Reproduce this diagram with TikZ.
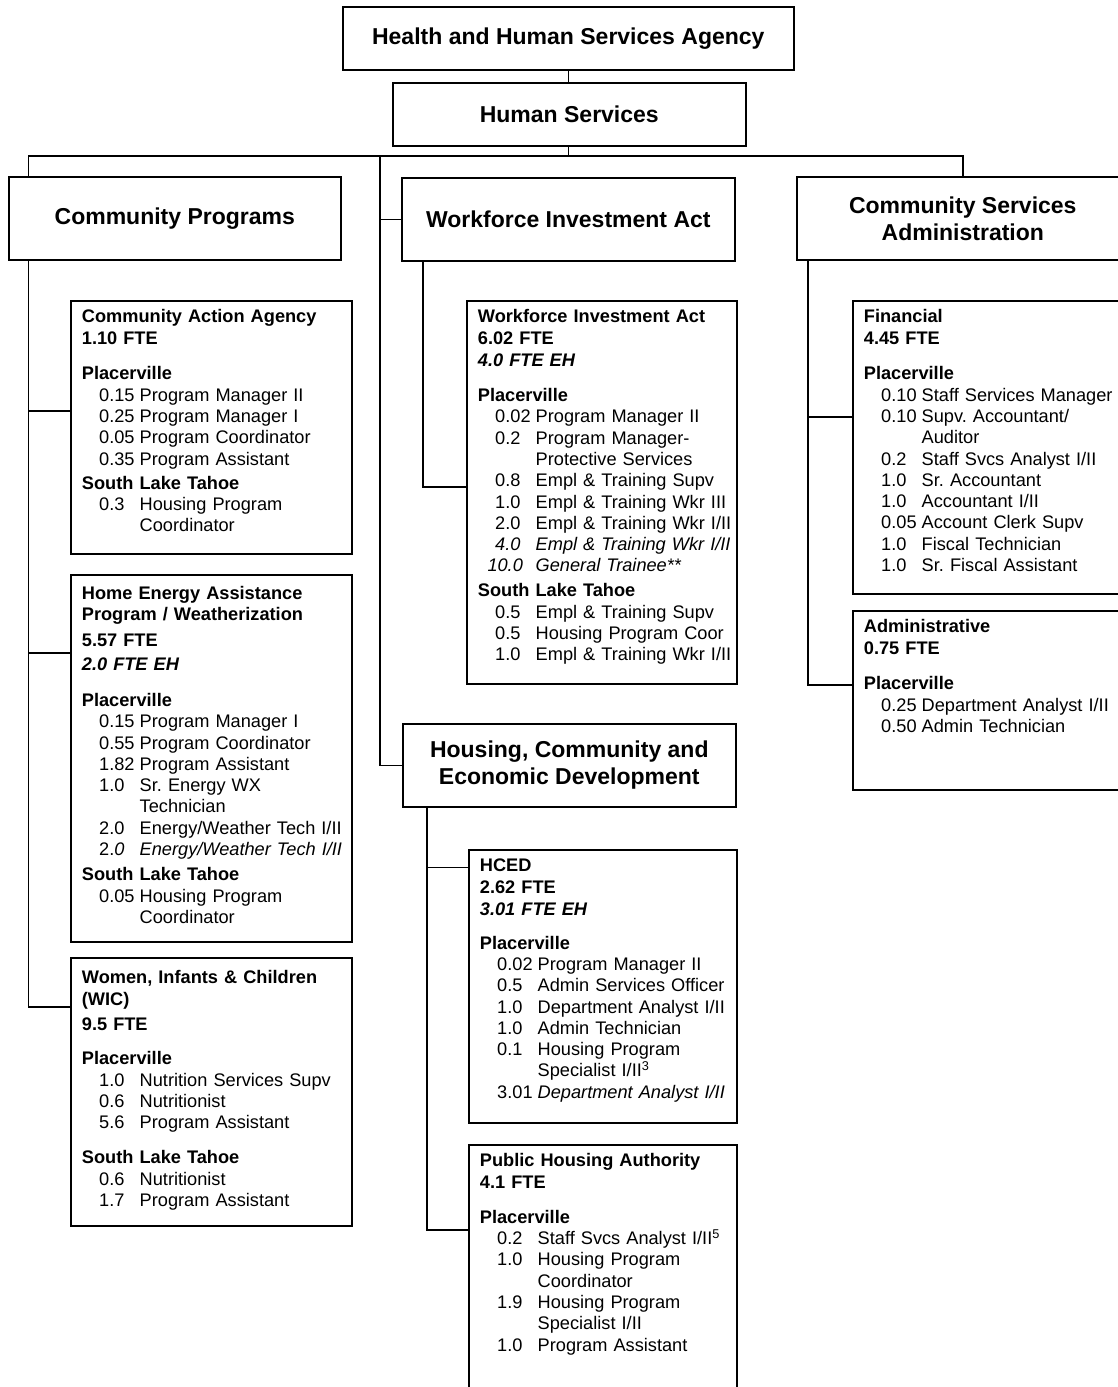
\documentclass[tikz,border=0pt]{standalone}
\usepackage{fontspec}
\setmainfont{Liberation Sans}
\frenchspacing
\newcommand{\jb}[2]{\hspace*{17.3pt}\makebox[40.5pt][l]{#1}#2}
\newcommand{\jc}[1]{\hspace*{57.8pt}#1}
\tikzset{
  hdr/.style={draw, line width=1.6pt, anchor=north west, inner sep=0pt, align=center,
    font=\fontsize{23}{27}\selectfont\bfseries},
  sub/.style={draw, line width=1.6pt, anchor=north west, inner sep=0pt},
  txt/.style={anchor=north west, inner sep=0pt, align=left, text width=300pt,
    font=\fontsize{18.2}{21.3}\selectfont},
  wire/.style={line width=1.6pt}
}
\begin{document}
\begin{tikzpicture}[x=1pt,y=-1pt]
  \useasboundingbox (0,0) rectangle (1117,1387);
  \node[hdr, minimum width=451pt, minimum height=63pt] (hhsa) at (342,6) {Health and Human Services Agency};
  \node[hdr, minimum width=353pt, minimum height=63pt] (hs) at (392,82) {Human Services};
  \node[hdr, minimum width=332pt, minimum height=83pt] (cp) at (8,176) {Community Programs};
  \node[hdr, minimum width=333pt, minimum height=83pt] (wia) at (401,177) {Workforce Investment Act};
  \node[hdr, minimum width=332pt, minimum height=83pt] (csa) at (796,176) {Community Services\\Administration};
  \node[hdr, minimum width=333pt, minimum height=83pt] (hced) at (402,723) {Housing, Community and\\Economic Development};

  \node[sub, minimum width=281pt, minimum height=253pt] (caa) at (70,300) {};
  \node[sub, minimum width=281pt, minimum height=367pt] (heap) at (70,574) {};
  \node[sub, minimum width=281pt, minimum height=268pt] (wic) at (70,957) {};
  \node[sub, minimum width=270pt, minimum height=383pt] (wiasub) at (466,300) {};
  \node[sub, minimum width=268pt, minimum height=273pt] (hcedsub) at (468,849) {};
  \node[sub, minimum width=268pt, minimum height=280pt] (pha) at (468,1144) {};
  \node[sub, minimum width=273pt, minimum height=293pt] (fin) at (852,300) {};
  \node[sub, minimum width=273pt, minimum height=179pt] (adm) at (852,610) {};

  \node[txt] (caa txt) at ([xshift=11.7pt,yshift=-6.7pt]caa.north west) {\rule{0pt}{16pt}\textbf{Community Action Agency}\\
    \textbf{1.10 FTE}\\[14.3pt]
    \textbf{Placerville}\\
    \jb{0.15}{Program Manager II}\\
    \jb{0.25}{Program Manager I}\\
    \jb{0.05}{Program Coordinator}\\
    \jb{0.35}{Program Assistant}\\[3pt]
    \textbf{South Lake Tahoe}\\
    \jb{0.3}{Housing Program}\\
    \jc{Coordinator}};
  \node[txt] (heap txt) at ([xshift=11.7pt,yshift=-9.3pt]heap.north west) {\rule{0pt}{16pt}\textbf{Home Energy Assistance}\\
    \textbf{Program / Weatherization}\\[4pt]
    \textbf{5.57 FTE}\\[3.4pt]
    \textbf{\textit{2.0 FTE EH}}\\[14.3pt]
    \textbf{Placerville}\\
    \jb{0.15}{Program Manager I}\\
    \jb{0.55}{Program Coordinator}\\
    \jb{1.82}{Program Assistant}\\
    \jb{1.0}{Sr. Energy WX}\\
    \jc{Technician}\\
    \jb{2.0}{Energy/Weather Tech I/II}\\
    \jb{2.\textit{0}}{\textit{Energy/Weather Tech I/II}}\\[4pt]
    \textbf{South Lake Tahoe}\\
    \jb{0.05}{Housing Program}\\
    \jc{Coordinator}};
  \node[txt] (wic txt) at ([xshift=11.7pt,yshift=-10.7pt]wic.north west) {\rule{0pt}{16pt}\textbf{Women, Infants \& Children}\\
    \textbf{(WIC)}\\[3.7pt]
    \textbf{9.5 FTE}\\[13.3pt]
    \textbf{Placerville}\\
    \jb{1.0}{Nutrition Services Supv}\\
    \jb{0.6}{Nutritionist}\\
    \jb{5.6}{Program Assistant}\\[13.7pt]
    \textbf{South Lake Tahoe}\\
    \jb{0.6}{Nutritionist}\\
    \jb{1.7}{Program Assistant}};
  \node[txt] (wiasub txt) at ([xshift=11.7pt,yshift=-6.7pt]wiasub.north west) {\rule{0pt}{16pt}\textbf{Workforce Investment Act}\\
    \textbf{6.02 FTE}\\[1pt]
    \textbf{\textit{4.0 FTE EH}}\\[13.7pt]
    \textbf{Placerville}\\
    \jb{0.02}{Program Manager II}\\
    \jb{0.2}{Program Manager-}\\
    \jc{Protective Services}\\
    \jb{0.8}{Empl \& Training Supv}\\
    \jb{1.0}{Empl \& Training Wkr III}\\
    \jb{2.0}{Empl \& Training Wkr I/II}\\
    \jb{\textit{4.0}}{\textit{Empl \& Training Wkr I/II}}\\
    \jb{\hspace*{-7.7pt}\textit{10.0}}{\textit{General Trainee**}}\\[3.7pt]
    \textbf{South Lake Tahoe}\\
    \jb{0.5}{Empl \& Training Supv}\\
    \jb{0.5}{Housing Program Coor}\\
    \jb{1.0}{Empl \& Training Wkr I/II}};
  \node[txt] (hcedsub txt) at ([xshift=11.7pt,yshift=-6.6pt]hcedsub.north west) {\rule{0pt}{16pt}\textbf{HCED}\\
    \textbf{2.62 FTE}\\[1pt]
    \textbf{\textit{3.01 FTE EH}}\\[12.4pt]
    \textbf{Placerville}\\
    \jb{0.02}{Program Manager II}\\
    \jb{0.5}{Admin Services Officer}\\
    \jb{1.0}{Department Analyst I/II}\\
    \jb{1.0}{Admin Technician}\\
    \jb{0.1}{Housing Program}\\
    \jc{Specialist I/II\textsuperscript{3}}\\
    \jb{3.01}{\textit{Department Analyst I/II}}};
  \node[txt] (pha txt) at ([xshift=11.7pt,yshift=-6.7pt]pha.north west) {\rule{0pt}{16pt}\textbf{Public Housing Authority}\\
    \textbf{4.1 FTE}\\[13.7pt]
    \textbf{Placerville}\\
    \jb{0.2}{Staff Svcs Analyst I/II\textsuperscript{5}}\\
    \jb{1.0}{Housing Program}\\
    \jc{Coordinator}\\
    \jb{1.9}{Housing Program}\\
    \jc{Specialist I/II}\\
    \jb{1.0}{Program Assistant}};
  \node[txt] (fin txt) at ([xshift=11.7pt,yshift=-6.7pt]fin.north west) {\rule{0pt}{16pt}\textbf{Financial}\\
    \textbf{4.45 FTE}\\[14.3pt]
    \textbf{Placerville}\\
    \jb{0.10}{Staff Services Manager}\\
    \jb{0.10}{Supv. Accountant/}\\
    \jc{Auditor}\\
    \jb{0.2}{Staff Svcs Analyst I/II}\\
    \jb{1.0}{Sr. Accountant}\\
    \jb{1.0}{Accountant I/II}\\
    \jb{0.05}{Account Clerk Supv}\\
    \jb{1.0}{Fiscal Technician}\\
    \jb{1.0}{Sr. Fiscal Assistant}};
  \node[txt] (adm txt) at ([xshift=11.7pt,yshift=-6.7pt]adm.north west) {\rule{0pt}{16pt}\textbf{Administrative}\\
    \textbf{0.75 FTE}\\[14.3pt]
    \textbf{Placerville}\\
    \jb{0.25}{Department Analyst I/II}\\
    \jb{0.50}{Admin Technician}};

  \coordinate (bus) at (568,156);
  \coordinate (trunk) at (380,156);
  \draw[wire] (hhsa.south) -- (hhsa.south |- hs.north);
  \draw[wire] (hhsa.south |- hs.south) -- (hhsa.south |- bus);
  \draw[wire] ([xshift=20.5pt]cp.north west) |- (bus) -| (csa.north);
  \draw[wire] (trunk) |- (hced.west);
  \draw[wire] (trunk |- wia.west) -- (wia.west);

  \draw[wire] ([xshift=20.5pt]cp.south west) |- ([yshift=-50pt]wic.north west);
  \draw[wire] ([xshift=20.5pt]cp.south west) |- ([yshift=-110.7pt]caa.north west);
  \draw[wire] ([xshift=20.5pt]cp.south west) |- ([yshift=-79pt]heap.north west);
  \draw[wire] ([xshift=22pt]wia.south west) |- ([yshift=-187pt]wiasub.north west);
  \draw[wire] ([xshift=12pt]csa.south west) |- ([yshift=-75pt]adm.north west);
  \draw[wire] ([xshift=12pt]csa.south west) |- ([yshift=-117pt]fin.north west);
  \draw[wire] ([xshift=24.7pt]hced.south west) |- ([yshift=-86pt]pha.north west);
  \draw[wire] ([xshift=24.7pt]hced.south west) |- ([yshift=-18.4pt]hcedsub.north west);
\end{tikzpicture}
\end{document}
